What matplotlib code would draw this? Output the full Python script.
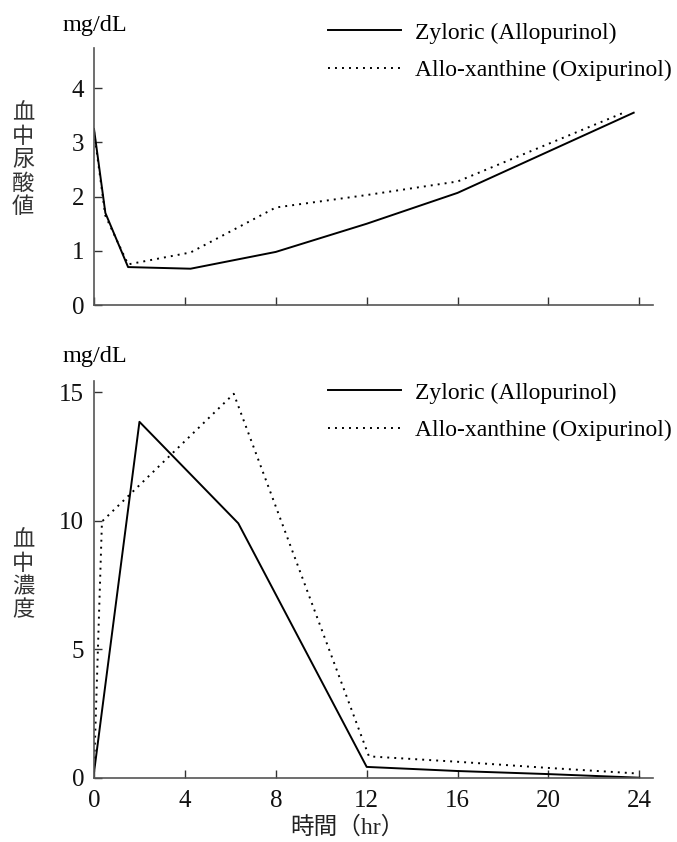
import matplotlib
matplotlib.use("Agg")
import matplotlib.pyplot as plt

# serum uric acid (mg/dL)
t_uric_zyl = [0, 0.5, 1.5, 4.25, 8, 12, 16, 23.75]
uric_zyl = [3.25, 1.7, 0.7, 0.67, 0.98, 1.5, 2.07, 3.55]
t_uric_oxi = [0, 0.5, 1.5, 4.25, 8, 12, 16, 23.25]
uric_oxi = [3.2, 1.65, 0.75, 0.97, 1.8, 2.03, 2.28, 3.54]

# blood concentration (mg/dL)
t_conc_zyl = [0, 2, 6.35, 12, 16, 20, 24]
conc_zyl = [0.2, 13.85, 9.9, 0.42, 0.26, 0.14, 0.0]
t_conc_oxi = [0, 0.35, 6.15, 12.1, 16, 20, 23.8]
conc_oxi = [0.2, 9.97, 14.94, 0.83, 0.62, 0.38, 0.17]

labels = ["Zyloric (Allopurinol)", "Allo-xanthine (Oxipurinol)"]
xticks = [0, 4, 8, 12, 16, 20, 24]
serif = "Liberation Serif"
cjk = ["Liberation Serif", "Noto Sans CJK JP"]

W, H = 677, 842
fig = plt.figure(figsize=(W / 100, H / 100), dpi=100)

dot = (0, (1, 2.6))
lw = 1.4


def px(x, y):
    return x / W, 1 - y / H


def style(ax, ymax, yticks, xlabels):
    ax.set_xlim(0, 24.6)
    ax.set_ylim(0, ymax)
    for s in ["top", "right"]:
        ax.spines[s].set_visible(False)
    for s in ["left", "bottom"]:
        ax.spines[s].set_color("#555555")
        ax.spines[s].set_linewidth(1.2)
    ax.set_yticks(yticks)
    ax.set_xticks(xticks)
    ax.tick_params(direction="in", length=6, width=1, color="#333333",
                   labelsize=18, labelcolor="#111111")
    ax.tick_params(axis="y", pad=7)
    ax.tick_params(axis="x", pad=9)
    if not xlabels:
        ax.tick_params(axis="x", labelbottom=False)
    for lab in ax.get_xticklabels() + ax.get_yticklabels():
        lab.set_fontfamily(serif)


# top panel
l, b = px(94, 305)
r, t = px(653, 47.7)
ax1 = fig.add_axes([l, b, r - l, t - b])
ax1.plot(t_uric_zyl, uric_zyl, color="black", lw=lw, label=labels[0])
ax1.plot(t_uric_oxi, uric_oxi, color="black", lw=lw, linestyle=dot, label=labels[1])
style(ax1, 4.75, [0, 1, 2, 3, 4], False)

# bottom panel
l, b = px(94, 777.7)
r, t = px(653, 380.7)
ax2 = fig.add_axes([l, b, r - l, t - b])
ax2.plot(t_conc_zyl, conc_zyl, color="black", lw=lw, label=labels[0])
ax2.plot(t_conc_oxi, conc_oxi, color="black", lw=lw, linestyle=dot, label=labels[1])
style(ax2, 15.45, [0, 5, 10, 15], True)

for ax, ytop in [(ax1, 22), (ax2, 382)]:
    ax.legend(loc="upper left", bbox_to_anchor=px(328, ytop),
              bbox_transform=fig.transFigure, frameon=False,
              prop={"family": serif, "size": 17}, handlelength=3.1,
              handletextpad=0.6, labelspacing=0.68, borderpad=0,
              borderaxespad=0)

# units
fig.text(*px(95, 25), "mg/dL", family=serif, fontsize=17.5, ha="center", va="center")
fig.text(*px(95, 356), "mg/dL", family=serif, fontsize=17.5, ha="center", va="center")

# vertical Japanese y labels
for chars, y0 in [("血中尿酸値", 113), ("血中濃度", 540)]:
    for i, c in enumerate(chars):
        fig.text(*px(23, y0 + i * 23.4), c, family="Noto Sans CJK JP",
                 fontsize=16, color="#333333", ha="center", va="center")

fig.text(*px(347, 828), "時間（hr）", family=cjk, fontsize=17,
         color="#222222", ha="center", va="center")

fig.savefig("out.png", dpi=100)
